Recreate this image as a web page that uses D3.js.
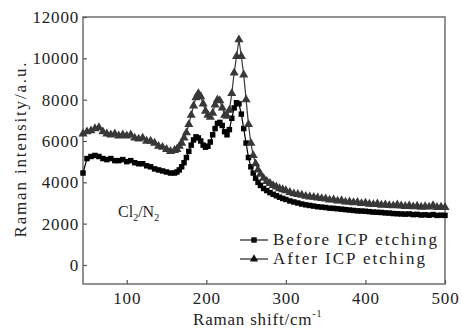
<!DOCTYPE html>
<html>
<head>
<meta charset="utf-8">
<script src="https://cdn.jsdelivr.net/npm/d3@7"></script>
<style>
  body { margin: 0; background: #ffffff; }
  text { font-family: "Liberation Serif", "DejaVu Serif", serif; fill: #222; }
</style>
</head>
<body>
<div id="chart"></div>
<script>
// Raman shift (cm-1), shared by both series
var shift = [45,50,55,60,65,70,75,80,85,90,95,100,105,110,115,120,125,130,135,140,145,150,155,160,
  163,166,169,172,175,178,181,184,187,190,193,196,199,202,205,208,211,214,217,220,223,226,229,232,235,238,241,244,247,250,253,256,259,262,265,268,
  272,276,280,284,288,292,296,300,305,310,315,320,325,330,335,340,345,350,355,360,365,370,375,380,385,390,395,400,
  405,410,415,420,425,430,435,440,445,450,455,460,465,470,475,480,485,490,495,500];

// Before ICP etching (squares)
var before = [4450,5150,5250,5300,5250,5150,5100,5150,5050,5050,5100,5000,5050,4950,4900,4900,4800,4750,4650,4600,4550,4500,4450,4450,
  4500,4600,4750,4950,5200,5500,5800,6050,6200,6150,6000,5800,5700,5750,5950,6300,6600,6850,6900,6750,6450,6300,6550,7100,7600,7850,7800,7300,6600,5900,5200,4750,4450,4200,4000,3850,
  3700,3600,3500,3420,3350,3280,3220,3170,3100,3050,3000,2950,2910,2880,2850,2820,2800,2780,2750,2740,2720,2700,2680,2660,2640,2620,2610,2600,
  2580,2560,2550,2540,2520,2510,2490,2480,2470,2460,2470,2440,2450,2420,2430,2410,2440,2400,2410,2400];

// After ICP etching (triangles)
var after = [6350,6450,6500,6600,6650,6450,6350,6300,6350,6250,6300,6250,6300,6150,6100,6150,6000,6000,5900,5750,5700,5600,5500,5550,
  5600,5750,5900,6150,6400,6800,7250,7700,8100,8300,8150,7800,7450,7250,7150,7350,7750,8000,7950,7600,7250,7200,7500,8300,9300,10100,10900,10100,9200,8000,6800,5900,5300,4900,4600,4400,
  4200,4050,3950,3850,3780,3700,3650,3600,3520,3450,3420,3380,3330,3300,3280,3250,3220,3200,3150,3160,3100,3120,3050,3060,3020,3030,2980,3000,
  2950,2930,2960,2900,2920,2880,2870,2910,2860,2840,2870,2820,2850,2800,2830,2810,2880,2790,2810,2790];

var yTicks = [0, 2000, 4000, 6000, 8000, 10000, 12000];
var xTicks = [100, 200, 300, 400, 500];

var width = 462, height = 329;
var plotLeft = 83, plotRight = 445, plotTop = 17, plotBottom = 284;

var svg = d3.select("#chart")
    .append("svg")
    .attr("width", width)
    .attr("height", height);

var x = d3.scaleLinear()
    .domain([45, 500])
    .range([plotLeft, plotRight]);

var y = d3.scaleLinear()
    .domain([-920, 12000])
    .range([plotBottom, plotTop]);

// frame
svg.append("rect")
    .attr("x", plotLeft)
    .attr("y", plotTop)
    .attr("width", plotRight - plotLeft)
    .attr("height", plotBottom - plotTop)
    .attr("fill", "none")
    .attr("stroke", "#777")
    .attr("stroke-width", 1.6);

var yAxis = svg.append("g")
    .attr("transform", "translate(" + plotLeft + ",0)")
    .call(d3.axisRight(y).tickValues(yTicks).tickSize(4).tickFormat(d3.format("d")));
yAxis.select(".domain").remove();
yAxis.selectAll("line").attr("stroke", "#555").attr("stroke-width", 1.2);
yAxis.selectAll("text")
    .attr("x", -4)
    .attr("text-anchor", "end")
    .style("font-size", "17px")
    .style("letter-spacing", "0.8px")
    .attr("fill", "#333");

var xAxis = svg.append("g")
    .attr("transform", "translate(0," + plotBottom + ")")
    .call(d3.axisTop(x).tickValues(xTicks).tickSize(4).tickFormat(d3.format("d")));
xAxis.select(".domain").remove();
xAxis.selectAll("line").attr("stroke", "#555").attr("stroke-width", 1.2);
xAxis.selectAll("text")
    .attr("y", 20)
    .attr("dy", 0)
    .style("font-size", "17px")
    .style("letter-spacing", "0.8px")
    .attr("fill", "#333");

var line = d3.line()
    .x(function(d) { return x(d[0]); })
    .y(function(d) { return y(d[1]); });

var series = [
    { name: "Before ICP etching", values: before, symbol: d3.symbolSquare, size: 30, color: "#000" },
    { name: "After ICP etching", values: after, symbol: d3.symbolTriangle, size: 36, color: "#383838" }
];

series.forEach(function(s) {
    var pts = shift.map(function(v, i) { return [v, s.values[i]]; });

    svg.append("path")
        .datum(pts)
        .attr("fill", "none")
        .attr("stroke", s.color)
        .attr("stroke-width", 1.2)
        .attr("d", line);

    svg.append("g")
        .selectAll("path")
        .data(pts)
        .enter().append("path")
          .attr("transform", function(d) { return "translate(" + x(d[0]) + "," + y(d[1]) + ")"; })
          .attr("d", d3.symbol().type(s.symbol).size(s.size))
          .attr("fill", s.color);
});

// legend
var legend = svg.append("g");
series.forEach(function(s, i) {
    var ly = 240 + i * 19;
    legend.append("line")
        .attr("x1", 240).attr("x2", 268)
        .attr("y1", ly).attr("y2", ly)
        .attr("stroke", "#222")
        .attr("stroke-width", 1.2);
    legend.append("path")
        .attr("transform", "translate(254," + ly + ")")
        .attr("d", d3.symbol().type(s.symbol).size(30))
        .attr("fill", "#111");
    legend.append("text")
        .attr("x", 273)
        .attr("y", ly + 5)
        .attr("textLength", i == 0 ? 164 : 152)
        .attr("lengthAdjust", "spacing")
        .style("font-size", "17px")
        .text(s.name);
});

// Cl2/N2 label
var gas = svg.append("text")
    .attr("x", 118)
    .attr("y", 217)
    .style("font-size", "16px")
    .attr("fill", "#444");
gas.append("tspan").text("Cl");
gas.append("tspan").attr("dy", 4).style("font-size", "10px").text("2");
gas.append("tspan").attr("dy", -4).text("/N");
gas.append("tspan").attr("dy", 4).style("font-size", "10px").text("2");

// axis titles
var xt = svg.append("text")
    .attr("x", 193)
    .attr("y", 325)
    .style("font-size", "17px")
    .style("letter-spacing", "0.8px");
xt.append("tspan").text("Raman shift/cm");
xt.append("tspan").attr("dy", -8).style("font-size", "10px").text("-1");

svg.append("text")
    .attr("transform", "translate(26,150) rotate(-90)")
    .attr("text-anchor", "middle")
    .attr("textLength", 175)
    .attr("lengthAdjust", "spacing")
    .style("font-size", "17px")
    .text("Raman intensity/a.u.");
</script>
</body>
</html>
